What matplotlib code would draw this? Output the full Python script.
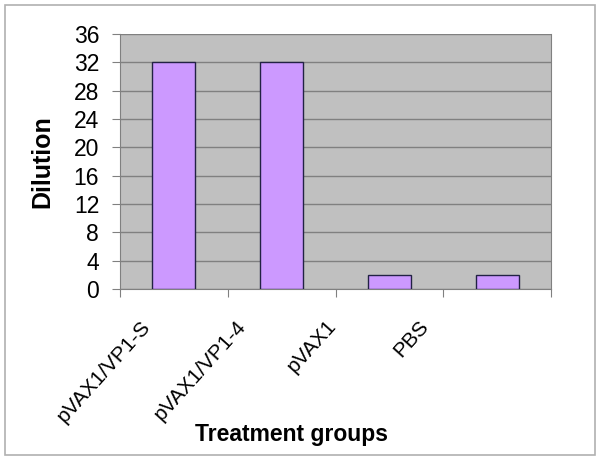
import matplotlib
matplotlib.use("Agg")
import matplotlib.pyplot as plt
from matplotlib.patches import Rectangle
from matplotlib.transforms import ScaledTranslation
import numpy as np

groups = ["pVAX1/VP1-S", "pVAX1/VP1-4", "pVAX1", "PBS"]
dilution = [32, 32, 2, 2]
yticks = [0, 4, 8, 12, 16, 20, 24, 28, 32, 36]

plt.rcParams['font.family'] = ['Liberation Sans', 'DejaVu Sans']

fig = plt.figure(figsize=(6.0, 4.63), dpi=100)
W, H = 600, 463
ax = fig.add_axes([120 / W, 1 - 289 / H, (551 - 120) / W, (289 - 34) / H])

# outer frame of the chart
fig.patches.append(Rectangle((5 / W, 1 - 455 / H), 590 / W, 450 / H,
                             transform=fig.transFigure, fill=False,
                             edgecolor='#b0b0b0', linewidth=1.2))

x = np.arange(len(groups))
ax.set_facecolor('#c0c0c0')
ax.bar(x, dilution, width=0.4, color='#cc99ff', edgecolor='#222244',
       linewidth=1.0, zorder=3)

ax.set_xlim(-0.5, len(groups) - 0.5)
ax.set_ylim(0, 36)
ax.set_yticks(yticks)
ax.yaxis.grid(True, color='#808080', linewidth=1.0, zorder=1)
ax.tick_params(axis='y', labelsize=16.5, length=6, color='#808080', pad=9)

# category ticks between bars, labels under bars
ax.set_xticks(np.arange(len(groups) + 1) - 0.5)
ax.set_xticklabels([])
ax.set_xticks(x, minor=True)
ax.set_xticklabels(groups, minor=True, rotation=48, ha='right', va='center',
                   rotation_mode='anchor', fontsize=15)
ax.tick_params(axis='x', which='major', length=6, color='#808080')
ax.tick_params(axis='x', which='minor', length=0, pad=0)

# excel-style placement: shorter labels sit further to the left
shift_px = [-27, -39, -56, -72]
for lab, dx in zip(ax.get_xticklabels(minor=True), shift_px):
    lab.set_transform(lab.get_transform() +
                      ScaledTranslation(dx / 100, -34 / 100, fig.dpi_scale_trans))

for s in ['left', 'bottom', 'right']:
    ax.spines[s].set_color('#808080')
ax.spines['top'].set_visible(False)

ax.set_ylabel('Dilution', fontsize=18, fontweight='bold')
ax.yaxis.set_label_coords(-(120 - 42) / 431, 0.5)
ax.set_xlabel('Treatment groups', fontsize=16.5, fontweight='bold')
ax.xaxis.set_label_coords((291 - 120) / 431, -(435 - 289) / 255)
ax.xaxis.label.set_va('center')
ax.yaxis.label.set_va('center')

fig.savefig('out.png', dpi=100)
